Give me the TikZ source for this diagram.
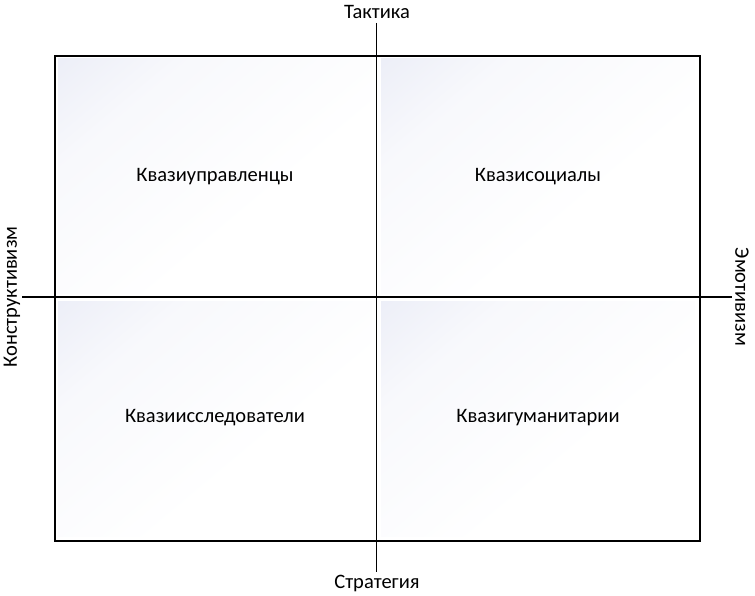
\documentclass[tikz,border=0pt]{standalone}
\usepackage{fontspec}
\setmainfont{Carlito}
\definecolor{quadtop}{RGB}{226,229,243}
\pgfdeclareverticalshading{quadfade}{100bp}{color(0bp)=(white); color(40bp)=(white); color(70bp)=(white!75!quadtop); color(100bp)=(quadtop)}
\tikzset{
  quad/.style={shading=quadfade, shading angle=40, draw=none},
  axisline/.style={draw=black, line width=1.8pt},
  frame/.style={draw=black, line width=1.8pt},
  lbl/.style={font=\fontsize{20.5}{24}\selectfont, text=black, inner sep=0pt},
}
\begin{document}
\begin{tikzpicture}[x=1pt,y=-1pt]
\useasboundingbox (0,0) rectangle (755,596);
% quadrant fills
\shade[quad] (58,59) rectangle (372,293);
\shade[quad] (381,59) rectangle (695,293);
\shade[quad] (58,301) rectangle (372,536);
\shade[quad] (381,301) rectangle (695,536);
% frame
\node[frame, minimum width=645pt, minimum height=485pt, inner sep=0pt, anchor=north west] (box) at (54,55) {};
% axes
\coordinate (vtop) at (376.5,23);
\coordinate (vbot) at (376.5,572);
\coordinate (hleft) at (22,297);
\coordinate (hright) at (732,297);
\draw[axisline] (vtop) -- (vbot);
\draw[axisline] (hleft) -- (hright);
% axis labels
\node[lbl] (tak) at (377,12) {Тактика};
\node[lbl] (str) at (377,583) {Стратегия};
\node[lbl, rotate=90] (kon) at (12,297) {Конструктивизм};
\node[lbl, rotate=-90] (emo) at (742,297) {Эмотивизм};
% quadrant labels
\node[lbl] (q1) at (215,177) {Квазиуправленцы};
\node[lbl] (q2) at (538,177) {Квазисоциалы};
\node[lbl] (q3) at (215,418) {Квазиисследователи};
\node[lbl] (q4) at (538,418) {Квазигуманитарии};
\end{tikzpicture}
\end{document}
